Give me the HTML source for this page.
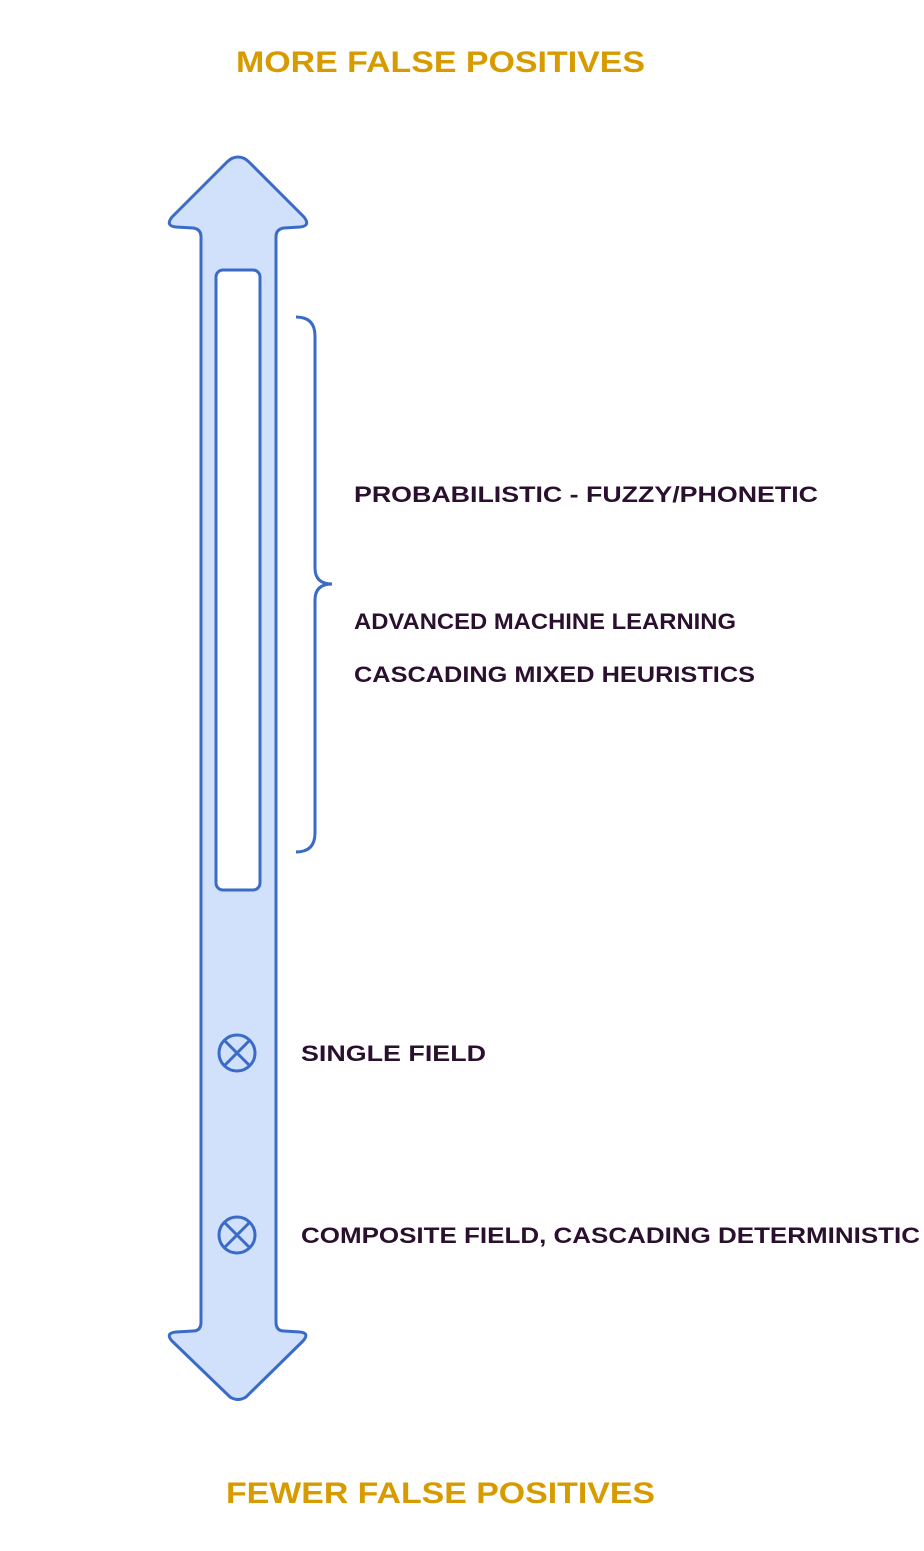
<!DOCTYPE html>
<html><head><meta charset="utf-8"><style>html,body{margin:0;padding:0;background:#fff}svg{display:block}</style></head>
<body>
<svg width="924" height="1551" viewBox="0 0 924 1551" xmlns="http://www.w3.org/2000/svg">
<path d="M238 157 Q232 157 227 162 L172 217 Q165 226 176 227 L193 228 Q201 229 201 237 L201 1322 Q201 1331 193 1331 L176 1332 Q165 1333 172 1341 L230 1397 Q238 1402 246 1397 L303 1341 Q310 1333 300 1332 L284 1331 Q276 1331 276 1322 L276 237 Q276 229 284 228 L300 227 Q311 226 304 217 L249 162 Q244 157 238 157 Z" fill="#d1e0fb" stroke="#3a6bc6" stroke-width="3" stroke-linejoin="round"/>
<rect x="216" y="270" width="44" height="620" rx="7" fill="#fff" stroke="#3a6bc6" stroke-width="3"/>
<path d="M296 317 Q315 317 315 336 L315 568 Q315 584 332 584 Q315 584 315 600 L315 833 Q315 852 296 852" fill="none" stroke="#3a6bc6" stroke-width="3"/>
<g fill="none" stroke="#3a6bc6" stroke-width="3">
<circle cx="237" cy="1053" r="18"/><path d="M224 1040 L250 1066 M250 1040 L224 1066"/>
<circle cx="237" cy="1235" r="18"/><path d="M224 1222 L250 1248 M250 1222 L224 1248"/>
</g>
<g font-family="Liberation Sans, sans-serif" font-weight="bold">
<text x="236" y="72" font-size="30" fill="#d79b00" textLength="409" lengthAdjust="spacingAndGlyphs">MORE FALSE POSITIVES</text>
<text x="226" y="1503" font-size="30" fill="#d79b00" textLength="429" lengthAdjust="spacingAndGlyphs">FEWER FALSE POSITIVES</text>
<g font-size="22" fill="#2b0f2e">
<text x="354" y="502" textLength="464" lengthAdjust="spacingAndGlyphs">PROBABILISTIC - FUZZY/PHONETIC</text>
<text x="354" y="629" textLength="382" lengthAdjust="spacingAndGlyphs">ADVANCED MACHINE LEARNING</text>
<text x="354" y="682" textLength="401" lengthAdjust="spacingAndGlyphs">CASCADING MIXED HEURISTICS</text>
<text x="301" y="1061" textLength="185" lengthAdjust="spacingAndGlyphs">SINGLE FIELD</text>
<text x="301" y="1243" textLength="619" lengthAdjust="spacingAndGlyphs">COMPOSITE FIELD, CASCADING DETERMINISTIC</text>
</g>
</g>
</svg>
</body></html>
